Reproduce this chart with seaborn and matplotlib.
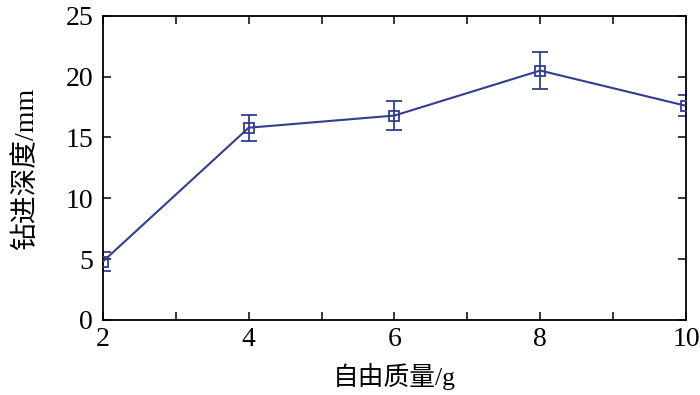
import matplotlib
matplotlib.use("Agg")
import matplotlib.pyplot as plt
import seaborn as sns
import pandas as pd
import numpy as np

mass = [2, 4, 6, 8, 10]
depth = [4.8, 15.8, 16.8, 20.5, 17.6]
err = [0.8, 1.05, 1.2, 1.55, 0.85]
xlabel = "自由质量/g"
ylabel = "钻进深度/mm"

sns.set_theme(style="white")
plt.rcParams['font.family'] = ['Liberation Serif', 'Noto Sans CJK SC']
plt.rcParams['axes.unicode_minus'] = False

color = "#333d8f"
df = pd.DataFrame({"mass": mass, "depth": depth, "err": err})

fig = plt.figure(figsize=(7, 3.95), dpi=100)
ax = fig.add_axes([0.147, 0.19, 0.833, 0.77])

sns.lineplot(data=df, x="mass", y="depth", ax=ax, color=color, lw=1.5,
             marker="s", markersize=7.5, markerfacecolor="none",
             markeredgecolor=color, markeredgewidth=1.3, zorder=3)
ax.errorbar(df["mass"], df["depth"], yerr=df["err"], fmt="none",
            ecolor=color, elinewidth=1.3, capsize=6, capthick=1.3, zorder=2)

ax.set_xlim(2, 10)
ax.set_ylim(0, 25)
ax.set_xticks([2, 4, 6, 8, 10])
ax.set_xticks([3, 5, 7, 9], minor=True)
ax.set_yticks([0, 5, 10, 15, 20, 25])
for s in ax.spines.values():
    s.set_color("black")
    s.set_linewidth(1.3)
ax.tick_params(axis="both", which="both", direction="in", top=True, right=True,
               bottom=True, left=True, length=6, width=1.1, colors="black",
               labelsize=20, pad=7)
ax.tick_params(axis="x", pad=5)
ax.tick_params(axis="y", labelright=False)
ax.set_xlabel(xlabel, fontsize=18.5, color="black", labelpad=8)
ax.set_ylabel(ylabel, fontsize=20, color="black", labelpad=19)

fig.savefig("out.png", dpi=100)
